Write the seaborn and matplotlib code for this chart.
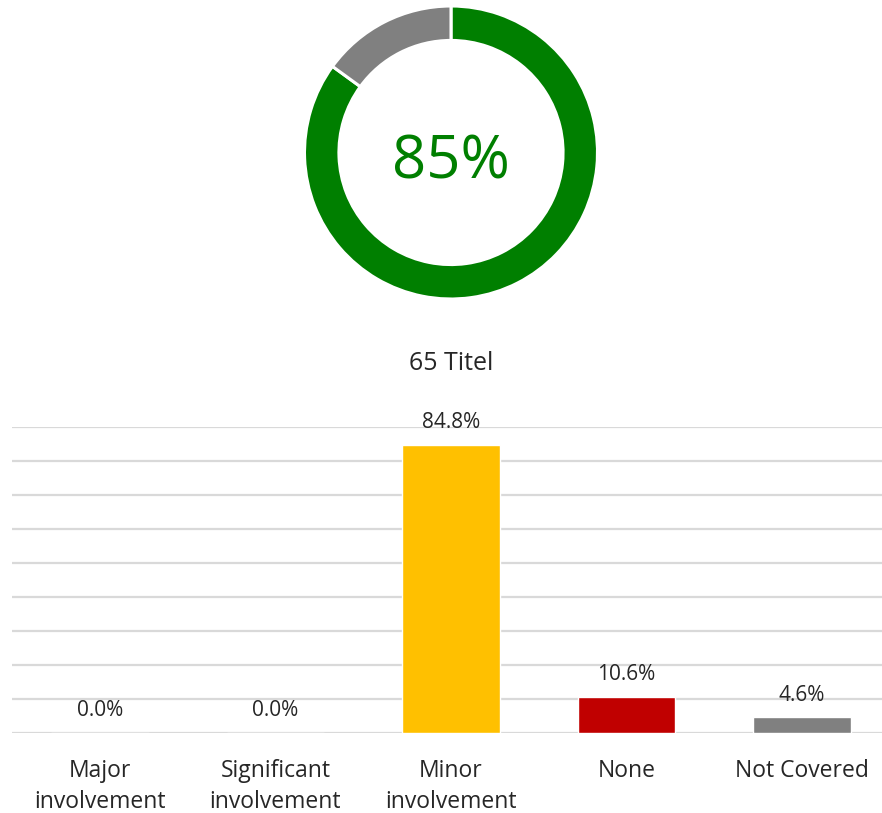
import matplotlib
matplotlib.use("Agg")
import matplotlib.pyplot as plt
import seaborn as sns
import pandas as pd

categories = ["Major\ninvolvement", "Significant\ninvolvement", "Minor\ninvolvement", "None", "Not Covered"]
values = [0.0, 0.0, 84.8, 10.6, 4.6]
bar_colors = ["#FFC000", "#FFC000", "#FFC000", "#C00000", "#808080"]

donut_values = [85, 15]
donut_colors = ["#007F00", "#808080"]
donut_label = "85%"
subtitle = "65 Titel"

sns.set_theme(style="white")
plt.rcParams["font.family"] = ["Open Sans", "DejaVu Sans"]

W, H = 882, 813
fig = plt.figure(figsize=(W / 100, H / 100), dpi=100)

# Donut
cx, cy, r = 451, 152.5, 146.5
ax_d = fig.add_axes([(cx - r) / W, (H - cy - r) / H, 2 * r / W, 2 * r / H])
ax_d.pie(donut_values, colors=donut_colors, startangle=90, counterclock=False,
         radius=1.0, wedgeprops=dict(width=0.235, edgecolor="white", linewidth=2.2))
ax_d.set_aspect("equal")
ax_d.text(0, -0.065, donut_label, ha="center", va="center", fontsize=43, color="#007F00")
ax_d.set_xlim(-1.0, 1.0)
ax_d.set_ylim(-1.0, 1.0)
ax_d.axis("off")

fig.text(451 / W, 1 - 363 / H, subtitle, ha="center", va="center", fontsize=18, color="#262626")

# Bars
left, right, top, bottom = 12, 882, 427, 733
ax = fig.add_axes([left / W, (H - bottom) / H, (right - left) / W, (bottom - top) / H])
df = pd.DataFrame({"cat": categories, "val": values})
sns.barplot(data=df, x="cat", y="val", hue="cat", palette=bar_colors, legend=False,
            width=0.558, ax=ax, saturation=1)
ax.set_ylim(0, 90)
ax.set_xlim(-0.5014, 4.456)
ax.set_yticks(range(0, 91, 10))
ax.yaxis.grid(True, color="#D9D9D9", linewidth=1.6)
ax.set_axisbelow(True)
for s in ax.spines.values():
    s.set_visible(False)
ax.tick_params(axis="y", left=False, labelleft=False)
ax.tick_params(axis="x", bottom=False, pad=13)
ax.set_xlabel("")
ax.set_ylabel("")
for lbl in ax.get_xticklabels():
    lbl.set_fontsize(16.5)
    lbl.set_color("#262626")
    lbl.set_linespacing(1.35)
    lbl.set_va("top")

for i, v in enumerate(values):
    ax.annotate(f"{v:.1f}%", xy=(i, v), xytext=(0, 16), textcoords="offset points",
                ha="center", va="center", fontsize=15, color="#262626")

fig.savefig("out.png", dpi=100)
